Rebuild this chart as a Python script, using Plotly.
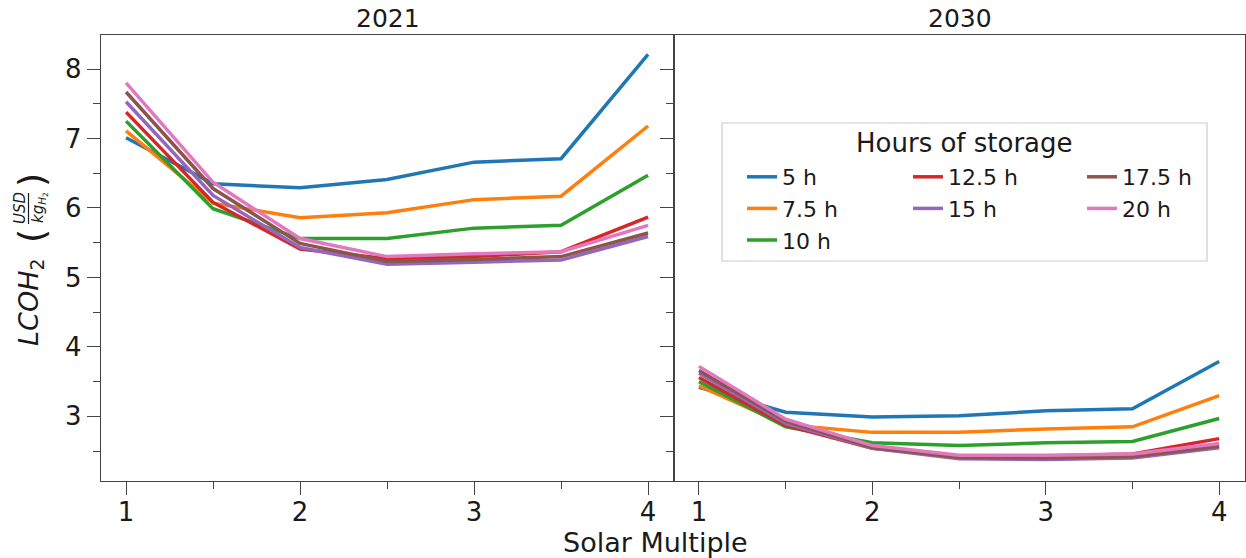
import plotly.graph_objects as go
from plotly.subplots import make_subplots

solar_multiple = [1, 1.5, 2, 2.5, 3, 3.5, 4]
storage_labels = ["5 h", "7.5 h", "10 h", "12.5 h", "15 h", "17.5 h", "20 h"]
colors = ["#1f77b4", "#ff7f0e", "#2ca02c", "#d62728", "#9467bd", "#8c564b", "#e377c2"]

lcoh_2021_5h = [7.01, 6.35, 6.29, 6.41, 6.66, 6.71, 8.21]
lcoh_2021_7_5h = [7.11, 6.07, 5.86, 5.93, 6.12, 6.17, 7.18]
lcoh_2021_10h = [7.25, 5.99, 5.56, 5.56, 5.71, 5.75, 6.47]
lcoh_2021_12_5h = [7.38, 6.08, 5.41, 5.27, 5.30, 5.37, 5.87]
lcoh_2021_15h = [7.53, 6.18, 5.43, 5.19, 5.22, 5.25, 5.59]
lcoh_2021_17_5h = [7.67, 6.28, 5.49, 5.23, 5.26, 5.30, 5.64]
lcoh_2021_20h = [7.80, 6.37, 5.56, 5.30, 5.34, 5.37, 5.75]

lcoh_2030_5h = [3.42, 3.06, 2.99, 3.01, 3.08, 3.11, 3.79]
lcoh_2030_7_5h = [3.44, 2.88, 2.77, 2.77, 2.82, 2.85, 3.30]
lcoh_2030_10h = [3.50, 2.85, 2.62, 2.58, 2.62, 2.64, 2.97]
lcoh_2030_12_5h = [3.56, 2.87, 2.54, 2.42, 2.43, 2.46, 2.68]
lcoh_2030_15h = [3.62, 2.90, 2.54, 2.39, 2.38, 2.40, 2.55]
lcoh_2030_17_5h = [3.66, 2.93, 2.55, 2.41, 2.40, 2.42, 2.57]
lcoh_2030_20h = [3.72, 2.96, 2.58, 2.44, 2.44, 2.46, 2.61]

series_2021 = [lcoh_2021_5h, lcoh_2021_7_5h, lcoh_2021_10h, lcoh_2021_12_5h,
               lcoh_2021_15h, lcoh_2021_17_5h, lcoh_2021_20h]
series_2030 = [lcoh_2030_5h, lcoh_2030_7_5h, lcoh_2030_10h, lcoh_2030_12_5h,
               lcoh_2030_15h, lcoh_2030_17_5h, lcoh_2030_20h]
panel_titles = ["2021", "2030"]
legend_title = "Hours of storage"

# legend columns (column-major like the reference)
legend_of_series = ["legend", "legend", "legend", "legend2", "legend2", "legend3", "legend3"]

W, H = 1246, 558
ML, MR, MT, MB = 101, 1, 35, 77
PW, PH = W - ML - MR, H - MT - MB


def px_x(p):
    return (p - ML) / PW


def px_y(p):
    return (H - MB - p) / PH


FONT = "DejaVu Sans"
TXT = "#1a1a1a"
fig = make_subplots(rows=1, cols=2, shared_yaxes=False, horizontal_spacing=0)

for i, (lab, col) in enumerate(zip(storage_labels, colors)):
    fig.add_trace(go.Scatter(x=solar_multiple, y=series_2021[i], mode="lines",
                             line=dict(color=col, width=3.5), name=lab,
                             legend=legend_of_series[i], showlegend=True), row=1, col=1)
    fig.add_trace(go.Scatter(x=solar_multiple, y=series_2030[i], mode="lines",
                             line=dict(color=col, width=3.5), name=lab,
                             showlegend=False), row=1, col=2)

split = (674 - ML) / PW
axis_common = dict(showline=True, linecolor="#444", linewidth=1.3, mirror=True,
                   ticks="outside", ticklen=13, tickwidth=1.3, tickcolor="#444",
                   showgrid=False, zeroline=False, automargin=False,
                   tickfont=dict(family=FONT, size=26, color=TXT))
minor_ticks = dict(dtick=0.5, tick0=0, ticklen=7, tickwidth=1.3, tickcolor="#444", ticks="outside")
xr = [0.856, 4.149]
yr = [2.07, 8.49]
fig.update_layout(
    xaxis=dict(domain=[0, split], range=xr, tickvals=[1, 2, 3, 4], minor=minor_ticks,
               ticklabelstandoff=-5, **axis_common),
    xaxis2=dict(domain=[split, 1], range=xr, tickvals=[1, 2, 3, 4], minor=minor_ticks,
                ticklabelstandoff=-5, **axis_common),
    yaxis=dict(range=yr, tickvals=[3, 4, 5, 6, 7, 8], minor=minor_ticks, **axis_common),
    yaxis2=dict(range=yr, tickvals=[3, 4, 5, 6, 7, 8], showticklabels=False, minor=minor_ticks, **axis_common),
)

leg_common = dict(orientation="v", xanchor="left", yanchor="top", bgcolor="rgba(0,0,0,0)",
                  borderwidth=0, font=dict(family=FONT, size=22, color=TXT), tracegroupgap=0)
leg_top = px_y(156)
fig.update_layout(
    width=W, height=H,
    margin=dict(l=ML, r=MR, t=MT, b=MB, pad=0),
    plot_bgcolor="white", paper_bgcolor="white",
    font=dict(family=FONT, color=TXT),
    legend=dict(x=px_x(742), y=leg_top, **leg_common),
    legend2=dict(x=px_x(908), y=leg_top, **leg_common),
    legend3=dict(x=px_x(1082), y=leg_top, **leg_common),
)

annotations = []
annotations.append(dict(text=panel_titles[0], x=px_x((101 + 674) / 2), y=px_y(18), xref="paper", yref="paper",
                        showarrow=False, font=dict(family=FONT, size=25, color=TXT),
                        xanchor="center", yanchor="middle"))
annotations.append(dict(text=panel_titles[1], x=px_x((674 + 1245) / 2), y=px_y(18), xref="paper", yref="paper",
                        showarrow=False, font=dict(family=FONT, size=25, color=TXT),
                        xanchor="center", yanchor="middle"))
annotations.append(dict(text=legend_title, x=px_x(964), y=px_y(143), xref="paper", yref="paper",
                        showarrow=False, font=dict(family=FONT, size=26, color=TXT),
                        xanchor="center", yanchor="middle"))
annotations.append(dict(text="Solar Multiple", x=px_x(655), y=px_y(542), xref="paper", yref="paper",
                        showarrow=False, font=dict(family=FONT, size=27, color=TXT),
                        xanchor="center", yanchor="middle"))
# y axis title built from pieces (mathtext-like)
annotations.append(dict(text="<i>LCOH</i><sub>2</sub>", x=px_x(30), y=px_y(303), xref="paper", yref="paper",
                        showarrow=False, textangle=-90, font=dict(family=FONT, size=27, color=TXT),
                        xanchor="center", yanchor="middle"))
annotations.append(dict(text="(", x=px_x(31), y=px_y(236), xref="paper", yref="paper",
                        showarrow=False, textangle=-90, font=dict(family=FONT, size=36, color=TXT),
                        xanchor="center", yanchor="middle"))
annotations.append(dict(text=")", x=px_x(31), y=px_y(180), xref="paper", yref="paper",
                        showarrow=False, textangle=-90, font=dict(family=FONT, size=36, color=TXT),
                        xanchor="center", yanchor="middle"))
annotations.append(dict(text="<i>USD</i>", x=px_x(20), y=px_y(208), xref="paper", yref="paper",
                        showarrow=False, textangle=-90, font=dict(family=FONT, size=15, color=TXT),
                        xanchor="center", yanchor="middle"))
annotations.append(dict(text="<i>kg</i><sub><i>H</i><sub>2</sub></sub>", x=px_x(39), y=px_y(208),
                        xref="paper", yref="paper",
                        showarrow=False, textangle=-90, font=dict(family=FONT, size=15, color=TXT),
                        xanchor="center", yanchor="middle"))
fig.update_layout(annotations=annotations)
fig.add_shape(type="line", xref="paper", yref="paper", x0=px_x(28.5), x1=px_x(28.5),
              y0=px_y(193), y1=px_y(224), line=dict(color=TXT, width=1.2))
# legend frame
fig.add_shape(type="rect", xref="paper", yref="paper", x0=px_x(722), x1=px_x(1207),
              y0=px_y(261), y1=px_y(123), line=dict(color="#cccccc", width=1.2),
              fillcolor="white", layer="below")

fig.write_html("out.html", config={"displayModeBar": False},
               post_script="document.body.style.margin='0';document.body.style.padding='0';")
